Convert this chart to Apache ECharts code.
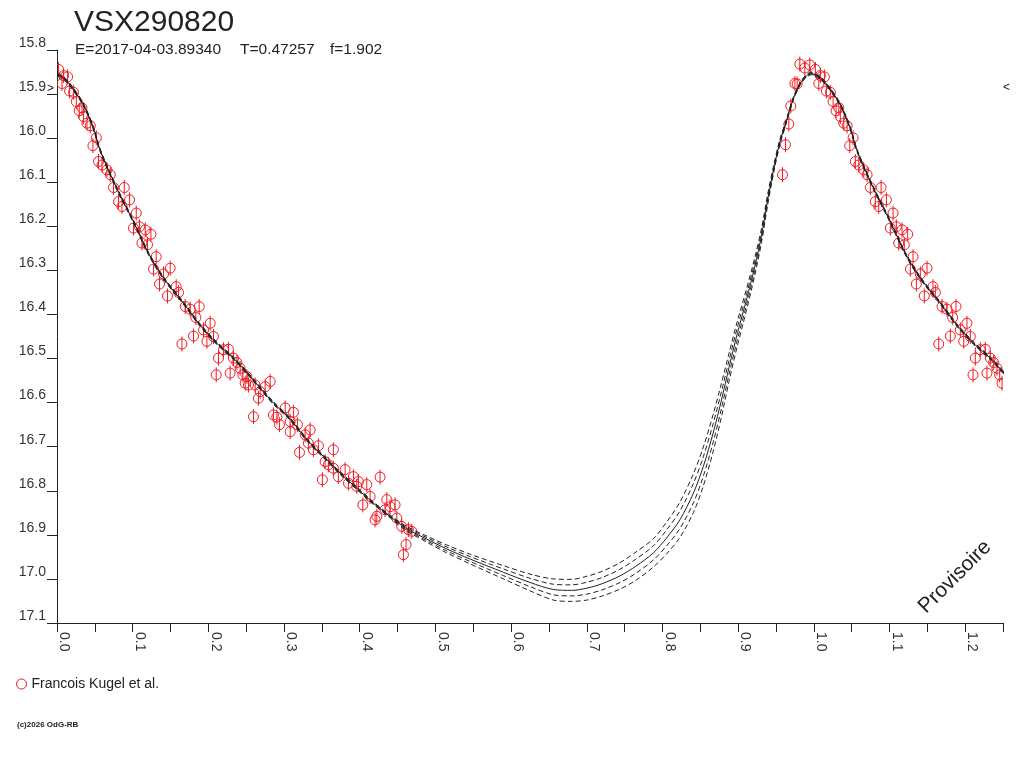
<!DOCTYPE html>
<html>
<head>
<meta charset="utf-8">
<script src="https://cdn.jsdelivr.net/npm/echarts@6/dist/echarts.min.js"></script>
<style>html,body{margin:0;padding:0;background:#fff;}#chart{width:1024px;height:768px;}</style>
</head>
<body>
<div id="chart"></div>
<script>
// Observations (phase, magnitude) - Francois Kugel et al.
var obsPhase = [0.0021,0.0066,0.0087,0.0140,0.0166,0.0219,0.0255,0.0294,0.0330,0.0351,0.0396,0.0440,0.0475,0.0519,0.0549,0.0594,0.0660,0.0704,0.0747,0.0813,0.0858,0.0889,0.0959,0.1011,0.1047,0.1091,0.1122,0.1166,0.1196,0.1241,0.1276,0.1311,0.1355,0.1408,0.1460,0.1496,0.1575,0.1606,0.1651,0.1694,0.1760,0.1804,0.1835,0.1879,0.1936,0.1981,0.2024,0.2068,0.2104,0.2134,0.2200,0.2266,0.2288,0.2332,0.2377,0.2420,0.2456,0.2487,0.2509,0.2530,0.2596,0.2618,0.2662,0.2685,0.2751,0.2817,0.2860,0.2905,0.2939,0.3015,0.3081,0.3081,0.3124,0.3177,0.3204,0.3279,0.3322,0.3345,0.3388,0.3454,0.3507,0.3543,0.3586,0.3652,0.3652,0.3718,0.3807,0.3851,0.3917,0.3961,0.3983,0.4041,0.4093,0.4137,0.4203,0.4226,0.4269,0.4335,0.4358,0.4401,0.4467,0.4490,0.4556,0.4577,0.4612,0.4643,0.4688,0.9587,0.9626,0.9670,0.9696,0.9750,0.9780,0.9815,0.9881,0.9947];
var obsMag = [15.844,15.876,15.858,15.861,15.893,15.896,15.917,15.938,15.931,15.951,15.966,15.972,16.017,15.999,16.053,16.061,16.072,16.083,16.112,16.144,16.155,16.112,16.140,16.204,16.170,16.201,16.238,16.208,16.242,16.218,16.297,16.269,16.331,16.308,16.358,16.295,16.337,16.350,16.467,16.382,16.388,16.449,16.407,16.382,16.435,16.461,16.420,16.450,16.537,16.499,16.480,16.479,16.533,16.499,16.509,16.522,16.537,16.556,16.541,16.560,16.632,16.560,16.590,16.575,16.564,16.552,16.628,16.633,16.650,16.612,16.643,16.666,16.622,16.650,16.713,16.673,16.692,16.662,16.707,16.698,16.775,16.734,16.741,16.707,16.749,16.768,16.752,16.783,16.768,16.790,16.779,16.832,16.786,16.813,16.866,16.858,16.769,16.843,16.820,16.836,16.832,16.862,16.881,16.945,16.922,16.888,16.892,16.083,16.015,15.968,15.927,15.876,15.877,15.832,15.841,15.834];
var obsErr = 0.017;

// Fitted light curve and its envelope step (mag)
var modelPhase = [0,0.008,0.018,0.034,0.047,0.058,0.079,0.101,0.121,0.141,0.167,0.189,0.211,0.233,0.255,0.286,0.308,0.330,0.352,0.374,0.396,0.418,0.440,0.462,0.489,0.515,0.546,0.590,0.625,0.656,0.680,0.700,0.720,0.744,0.765,0.788,0.8055,0.823,0.841,0.854,0.867,0.878,0.888,0.899,0.911,0.922,0.931,0.939,0.947,0.955,0.964,0.973,0.9815,0.990,0.997,1.0];
var modelMag = [15.856,15.862,15.881,15.921,15.972,16.032,16.114,16.189,16.262,16.318,16.374,16.424,16.465,16.499,16.540,16.601,16.637,16.684,16.722,16.760,16.794,16.828,16.858,16.886,16.910,16.932,16.955,16.985,17.008,17.024,17.026,17.021,17.011,16.993,16.971,16.941,16.907,16.866,16.805,16.745,16.669,16.594,16.520,16.443,16.367,16.291,16.220,16.140,16.070,16.010,15.960,15.910,15.878,15.859,15.853,15.856];
var bandStep = [0.0015,0.0015,0.0015,0.0015,0.0015,0.0015,0.0015,0.0015,0.0015,0.0015,0.0015,0.0015,0.0015,0.0015,0.0015,0.0015,0.0015,0.0015,0.0015,0.0015,0.0015,0.0015,0.0015,0.0025,0.0035,0.0045,0.0055,0.0075,0.0095,0.012,0.0125,0.0135,0.014,0.015,0.016,0.016,0.018,0.020,0.022,0.022,0.021,0.019,0.016,0.014,0.012,0.010,0.008,0.006,0.004,0.003,0.002,0.0015,0.0015,0.0015,0.0015,0.0015];

var xTicks = { min: 0, max: 1.25, interval: 0.05 };
var yTicks = { min: 15.8, max: 17.1, interval: 0.1 };

var RED = '#f01c24';
var INK = '#222222';
var FONT = "'Liberation Sans', Arial, sans-serif";

function obsData() {
  var d = [];
  for (var i = 0; i < obsPhase.length; i++) {
    d.push([obsPhase[i], obsMag[i]]);
    if (obsPhase[i] + 1 <= xTicks.max) d.push([obsPhase[i] + 1, obsMag[i]]);
  }
  return d;
}
function curveData(k) {
  var d = [];
  for (var i = 0; i < modelPhase.length; i++) d.push([modelPhase[i], modelMag[i] + k * bandStep[i]]);
  for (var j = 0; j < modelPhase.length; j++) {
    if (modelPhase[j] > 0 && modelPhase[j] <= 0.26) d.push([modelPhase[j] + 1, modelMag[j] + k * bandStep[j]]);
  }
  return d;
}
function curveSeries(k) {
  return {
    type: 'line', data: curveData(k), showSymbol: false, smooth: 0.3, silent: true, z: 5,
    clip: true, legendHoverLink: false,
    lineStyle: { color: INK, width: 1, type: k === 0 ? 'solid' : [5, 3] }
  };
}

var chart = echarts.init(document.getElementById('chart'));
var option = {
  animation: false,
  backgroundColor: '#fff',
  textStyle: { fontFamily: FONT },
  title: [
    { text: 'VSX290820', left: 74, top: 8, padding: 0, textStyle: { fontSize: 30, fontWeight: 'normal', color: INK, fontFamily: FONT } },
    { text: 'E=2017-04-03.89340', left: 75, top: 42, padding: 0, textStyle: { fontSize: 15.5, fontWeight: 'normal', color: INK, fontFamily: FONT } },
    { text: 'T=0.47257', left: 240, top: 42, padding: 0, textStyle: { fontSize: 15.5, fontWeight: 'normal', color: INK, fontFamily: FONT } },
    { text: 'f=1.902', left: 330, top: 42, padding: 0, textStyle: { fontSize: 15.5, fontWeight: 'normal', color: INK, fontFamily: FONT } }
  ],
  legend: {
    left: 16, top: 677, padding: 0, itemWidth: 10, itemHeight: 10,
    textStyle: { fontSize: 14, color: INK, fontFamily: FONT },
    data: [{ name: 'Francois Kugel et al.', icon: 'circle', itemStyle: { color: '#fff', borderColor: RED, borderWidth: 1 } }]
  },
  grid: { left: 57, right: 21, top: 50, bottom: 145, containLabel: false },
  xAxis: {
    type: 'value', min: xTicks.min, max: xTicks.max, interval: xTicks.interval,
    axisLine: { show: true, onZero: false, lineStyle: { color: INK, width: 1 } },
    axisTick: { show: true, length: 9, lineStyle: { color: INK } },
    splitLine: { show: false },
    axisLabel: {
      rotate: -90, margin: 9, fontSize: 14, color: '#333', fontFamily: FONT,
      verticalAlign: 'bottom', showMinLabel: true, showMaxLabel: true,
      formatter: function (v) {
        var t = v * 10;
        return Math.abs(t - Math.round(t)) < 1e-6 ? v.toFixed(1) : '';
      }
    }
  },
  yAxis: {
    type: 'value', inverse: true, min: yTicks.min, max: yTicks.max, interval: yTicks.interval,
    axisLine: { show: true, lineStyle: { color: INK, width: 1 } },
    axisTick: { show: true, length: 10, lineStyle: { color: INK } },
    splitLine: { show: false },
    axisLabel: {
      margin: 11, fontSize: 14, color: '#333', fontFamily: FONT, verticalAlign: 'bottom', lineHeight: 14,
      showMinLabel: true, showMaxLabel: true,
      formatter: function (v) { return v.toFixed(1); }
    }
  },
  series: [
    {
      name: 'Francois Kugel et al.', type: 'custom', clip: true, z: 3,
      itemStyle: { color: RED },
      data: obsData(),
      renderItem: function (params, api) {
        var x = api.value(0), y = api.value(1);
        var c = api.coord([x, y]);
        var t = api.coord([x, y - obsErr]);
        var b = api.coord([x, y + obsErr]);
        return {
          type: 'group',
          children: [
            { type: 'circle', shape: { cx: c[0], cy: c[1], r: 5 }, style: { fill: 'none', stroke: RED, lineWidth: 1 } },
            { type: 'line', shape: { x1: c[0], y1: t[1], x2: c[0], y2: b[1] }, style: { stroke: RED, lineWidth: 1 } }
          ]
        };
      }
    },
    curveSeries(-2), curveSeries(-1), curveSeries(0), curveSeries(1), curveSeries(2)
  ],
  graphic: [
    { type: 'text', left: 47, top: 83, style: { text: '>', fontSize: 12, fill: INK, fontFamily: FONT } },
    { type: 'text', left: 1003, top: 82, style: { text: '<', fontSize: 12, fill: INK, fontFamily: FONT } },
    { type: 'text', x: 955, y: 577, rotation: Math.PI / 4, style: { text: 'Provisoire', fontSize: 21, fill: INK, fontFamily: FONT, align: 'center', verticalAlign: 'middle' } },
    { type: 'text', left: 17, top: 721, style: { text: '(c)2026 OdG-RB', fontSize: 8, fontWeight: 'bold', fill: INK, fontFamily: FONT } }
  ]
};
chart.setOption(option);
</script>
</body>
</html>
